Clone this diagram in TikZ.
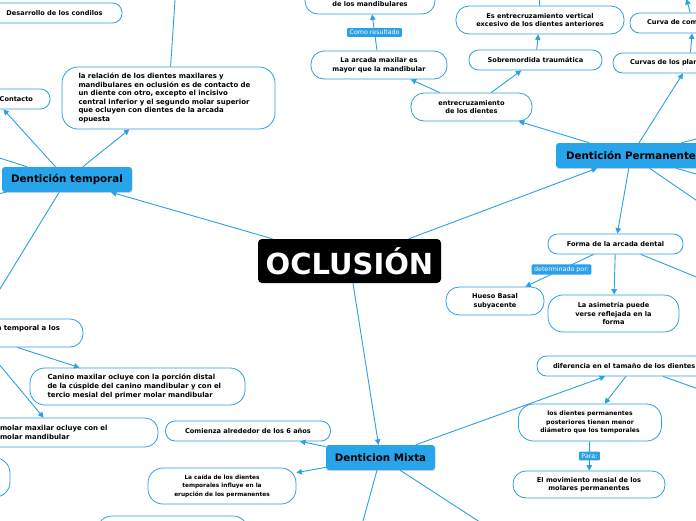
\documentclass[tikz,border=0pt]{standalone}
\usepackage{fontspec}
\setmainfont{DejaVu Sans}
\usetikzlibrary{arrows.meta,shadows}
\definecolor{mapablue}{RGB}{43,160,228}
\definecolor{temablue}{RGB}{40,164,234}
\tikzset{
  raiz/.style={
    rectangle, fill=black, rounded corners=4pt, text=white,
    font=\fontsize{29}{31}\selectfont\bfseries, inner sep=0pt
  },
  tema/.style={
    rectangle, fill=temablue, rounded corners=3pt, inner sep=0pt,
    font=\fontsize{10.3}{12}\selectfont\bfseries, minimum height=25pt,
    drop shadow={shadow xshift=0.4pt, shadow yshift=-1.2pt, opacity=0.3}
  },
  idea/.style={
    rectangle, draw=mapablue, line width=0.8pt, fill=white, rounded corners=9.5pt,
    inner sep=0pt, align=center, font=\fontsize{6.6}{8.6}\selectfont\bfseries
  },
  ideagrande/.style={idea, font=\fontsize{6.95}{8.6}\selectfont\bfseries},
  etiqueta/.style={
    rectangle, fill=mapablue, text=white, rounded corners=1pt,
    inner xsep=2.5pt, inner ysep=2pt, font=\fontsize{6.3}{7}\selectfont
  },
  flecha/.style={draw=mapablue, line width=0.9pt, -{Triangle[length=5.5pt, width=5.5pt]}}
}

\begin{document}
\begin{tikzpicture}[x=1pt, y=-1pt]
    \useasboundingbox (0,0) rectangle (696,520);
    \clip (0,0) rectangle (696,520);
    % Nodos
    \node[raiz, minimum width=183pt, minimum height=44pt] (oclusion) at (349.5,261) {OCLUSIÓN};
    \node[tema, minimum width=130pt] (temporal)   at (67,179.5)  {Dentición temporal};
    \node[tema, minimum width=150pt] (permanente) at (631,155.5) {Dentición Permanente};
    \node[tema, minimum width=109pt] (mixta)      at (380.5,457.5) {Denticion Mixta};
    % Dentición temporal
    \node[ideagrande, minimum width=213pt, minimum height=62pt, rounded corners=16pt, text width=180pt, align=left]
          (relacion) at (168.5,98) {la relación de los dientes maxilares y\\mandibulares en oclusión es de contacto de\\un diente con otro, excepto el incisivo\\central inferior y el segundo molar superior\\que ocluyen con dientes de la arcada\\opuesta};
    \node[idea, minimum width=135pt, minimum height=20pt] (condilos) at (54.5,13) {Desarrollo de los condilos};
    \node[idea, minimum width=112pt, minimum height=20pt, text width=78pt, align=right] (contacto) at (-6,99) {Contacto};
    \node[ideagrande, minimum width=220pt, minimum height=28pt, rounded corners=13pt, text width=174pt, align=right]
          (templos) at (-27,333) {n temporal a los\\\strut};
    \node[ideagrande, minimum width=215pt, minimum height=37pt, rounded corners=15pt, text width=180pt, align=left]
          (canino) at (137.5,386.5) {Canino maxilar ocluye con la porción distal\\de la cúspide del canino mandibular y con el\\tercio mesial del primer molar mandibular};
    \node[ideagrande, minimum width=204pt, minimum height=29pt, rounded corners=13pt, text width=112pt, align=left]
          (molar) at (56,432.5) {molar maxilar ocluye con el\\molar mandibular};
    \node[idea, minimum width=100pt, minimum height=39pt, rounded corners=15pt] (esquina) at (-40,477.5) {};
    % Dentición mixta
    \node[idea, minimum width=165pt, minimum height=20pt] (seis) at (248,431) {Comienza alrededor de los 6 años};
    \node[idea, minimum width=148pt, minimum height=36pt, rounded corners=15pt, font=\fontsize{5.8}{8.4}\selectfont\bfseries]
          (caida) at (222,486) {La caída de los dientes\\temporales influye en la\\erupción de los permanentes};
    \node[idea, minimum width=151pt, minimum height=38pt, rounded corners=15pt] (abajo) at (172.5,535) {};
    \node[idea, minimum width=194pt, minimum height=20pt, text width=162pt, align=left]
          (diferencia) at (634,366) {diferencia en el tamaño de los dientes};
    \node[idea, minimum width=143pt, minimum height=37pt, rounded corners=15pt, font=\fontsize{6.1}{8.4}\selectfont\bfseries]
          (posteriores) at (590,422.5) {los dientes permanentes\\posteriores tienen menor\\diámetro que los temporales};
    \node[idea, minimum width=152pt, minimum height=27pt, rounded corners=13pt]
          (movimiento) at (589,484.5) {El movimiento mesial de los\\molares permanentes};
    % Dentición permanente
    \node[idea, minimum width=135pt, minimum height=20pt] (forma) at (615.5,244) {Forma de la arcada dental};
    \node[idea, minimum width=98pt, minimum height=28pt, rounded corners=13pt] (hueso) at (495,301) {Hueso Basal\\subyacente};
    \node[idea, minimum width=131pt, minimum height=37pt, rounded corners=15pt]
          (asimetria) at (613.5,313.5) {La asimetría puede\\verse reflejada en la\\forma};
    \node[idea, minimum width=121pt, minimum height=28pt, rounded corners=13pt]
          (entrecruz) at (471.5,107) {entrecruzamiento\\de los dientes};
    \node[idea, minimum width=136pt, minimum height=28pt, rounded corners=13pt]
          (arcada) at (379,65) {La arcada maxilar es\\mayor que la mandibular};
    \node[idea, minimum width=130pt, minimum height=30pt, rounded corners=13pt]
          (mandib) at (370,-1) {\strut\\de los mandibulares};
    \node[idea, minimum width=133pt, minimum height=20pt] (sobremordida) at (535.5,60) {Sobremordida traumática};
    \node[idea, minimum width=168pt, minimum height=28pt, rounded corners=13pt]
          (vertical) at (540,20) {Es entrecruzamiento vertical\\excesivo de los dientes anteriores};
    \node[idea, minimum width=153pt, minimum height=20pt, text width=119pt, align=left]
          (curvas) at (689.5,63) {Curvas de los planos};
    \node[idea, minimum width=126pt, minimum height=20pt, text width=92pt, align=left]
          (compensa) at (693,23) {Curva de compensación};
    % Extremos fuera del recorte
    \coordinate (fueraA) at (-60,139);
    \coordinate (fueraB) at (-60,206);
    \coordinate (fueraC) at (177,-30);
    \coordinate (fueraD) at (355,550);
    \coordinate (fueraE) at (523,550);
    \coordinate (fueraF) at (760,411);
    \coordinate (fueraG) at (760,303);
    \coordinate (fueraH) at (760,244);
    \coordinate (fueraI) at (760,192);
    \coordinate (fueraJ) at (760,123);
    \coordinate (fueraK) at (686.5,-1);
    \coordinate (fueraL) at (539,-20);
    % Flechas
    \draw[flecha] (oclusion) -- (temporal);
    \draw[flecha] (oclusion) -- (permanente);
    \draw[flecha] (oclusion) -- (mixta);
    \draw[flecha] (temporal) -- (relacion);
    \draw[flecha] (temporal) -- (contacto);
    \draw[flecha] (temporal) -- (templos);
    \draw[flecha] (temporal) -- (fueraA);
    \draw[flecha] (temporal) -- (fueraB);
    \draw[flecha] (relacion) -- (fueraC);
    \draw[flecha] (templos) -- (canino);
    \draw[flecha] (templos) -- (molar);
    \draw[flecha] (mixta) -- (seis);
    \draw[flecha] (mixta) -- (caida);
    \draw[flecha] (mixta) -- (fueraD);
    \draw[flecha] (mixta) -- (fueraE);
    \draw[flecha] (mixta) -- (diferencia);
    \draw[flecha] (diferencia) -- (posteriores);
    \draw[flecha] (diferencia) -- (fueraF);
    \draw[flecha] (posteriores) -- node[etiqueta]{Para:} (movimiento);
    \draw[flecha] (permanente) -- (forma);
    \draw[flecha] (forma) -- node[etiqueta, pos=0.47]{determinado por:} (hueso);
    \draw[flecha] (forma) -- (asimetria);
    \draw[flecha] (forma) -- (fueraG);
    \draw[flecha] (permanente) -- (fueraH);
    \draw[flecha] (permanente) -- (fueraI);
    \draw[flecha] (permanente) -- (fueraJ);
    \draw[flecha] (permanente) -- (curvas);
    \draw[flecha] (curvas) -- (compensa);
    \draw[flecha] (compensa) -- (fueraK);
    \draw[flecha] (permanente) -- (entrecruz);
    \draw[flecha] (entrecruz) -- (arcada);
    \draw[flecha] (arcada) -- node[etiqueta]{Como resultado} (mandib);
    \draw[flecha] (entrecruz) -- (sobremordida);
    \draw[flecha] (sobremordida) -- (vertical);
    \draw[flecha] (vertical) -- (fueraL);
\end{tikzpicture}
\end{document}
